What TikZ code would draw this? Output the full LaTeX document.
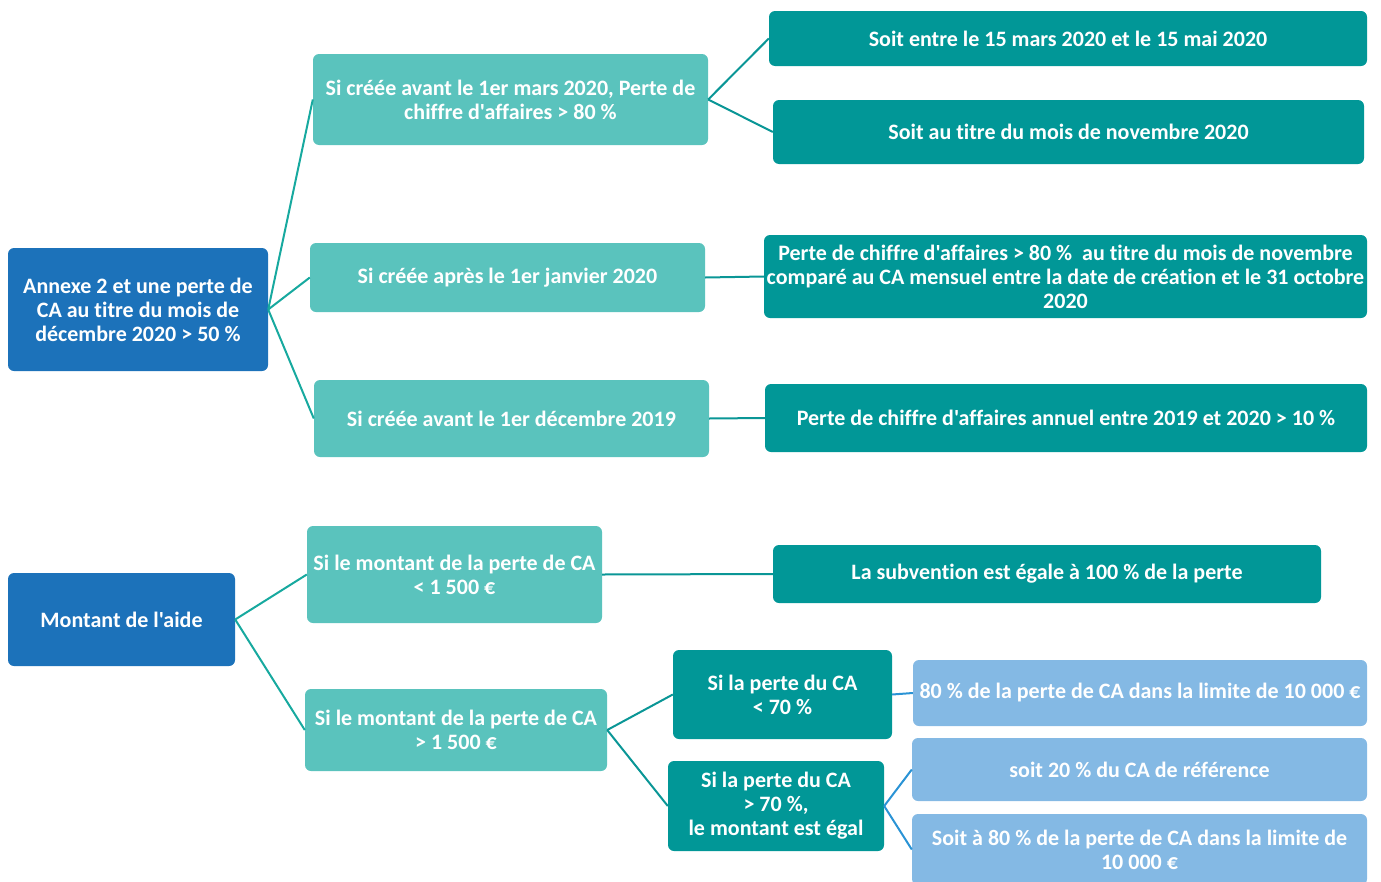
\documentclass[tikz,border=0pt]{standalone}
\usepackage{fontspec}
\setmainfont{Carlito}[Ligatures={TeXOff,CommonOff}]
\definecolor{rootblue}{HTML}{1C72BA}
\definecolor{lteal}{HTML}{5AC3BD}
\definecolor{dteal}{HTML}{019797}
\definecolor{lblue}{HTML}{84B9E4}
\definecolor{lnteal}{HTML}{17A99F}
\definecolor{lndteal}{HTML}{0A9696}
\definecolor{lnblue}{HTML}{2A93D5}
\tikzset{
  base/.style={rounded corners=6pt, inner sep=0pt, align=center, text=white,
    font=\bfseries\fontsize{22}{24}\selectfont},
  rootbox/.style={base, fill=rootblue},
  midbox/.style={base, fill=lteal},
  leafbox/.style={base, fill=dteal},
  bluebox/.style={base, fill=lblue},
  linkA/.style={draw=lnteal, line width=2pt},
  linkB/.style={draw=lndteal, line width=2pt},
  linkC/.style={draw=lnblue, line width=2pt}
}
\newcommand\mybox[7]{\node[#1, minimum width={(#4)-(#2)}, minimum height={(#5)-(#3)}] (#6) at ({((#2)+(#4))/2},{((#3)+(#5))/2}) {#7};}
\begin{document}
\begin{tikzpicture}[x=1pt,y=-1pt]
\useasboundingbox (0,0) rectangle (1381,881);
\clip (0,0) rectangle (1381,881);
% upper tree
\mybox{rootbox}{8}{248}{268}{371}{r1}{Annexe 2 et une perte de\\CA au titre du mois de\\décembre 2020 > 50 \%}
\mybox{midbox}{313}{54}{708}{145}{a1}{Si créée avant le 1er mars 2020, Perte de\\chiffre d'affaires > 80 \%}
\mybox{midbox}{310}{243}{705}{312}{a2}{Si créée après le 1er janvier 2020}
\mybox{midbox}{314}{380}{709}{457}{a3}{Si créée avant le 1er décembre 2019}
\mybox{leafbox}{769}{11}{1367}{66}{b1}{Soit entre le 15 mars 2020 et le 15 mai 2020}
\mybox{leafbox}{773}{100}{1364}{164}{b2}{Soit au titre du mois de novembre 2020}
\mybox{leafbox}{764}{235}{1367}{318}{b3}{Perte de chiffre d'affaires > 80 \%~ au titre du mois de novembre\\comparé au CA mensuel entre la date de création et le 31 octobre\\2020}
\mybox{leafbox}{765}{384}{1367}{452}{b4}{Perte de chiffre d'affaires annuel entre 2019 et 2020 > 10 \%}
% lower tree
\mybox{rootbox}{8}{573}{235}{666}{r2}{Montant de l'aide}
\mybox{midbox}{307}{526}{602}{623}{c1}{Si le montant de la perte de CA\\< 1 500 €}
\mybox{midbox}{305}{689}{607}{771}{c2}{Si le montant de la perte de CA\\> 1 500 €}
\mybox{leafbox}{773}{545}{1321}{603}{d1}{La subvention est égale à 100 \% de la perte}
\mybox{leafbox}{673}{650}{892}{739}{e1}{Si la perte du CA\\< 70 \%}
\mybox{leafbox}{668}{761}{884}{851}{e2}{Si la perte du CA\\> 70 \%,\\le montant est égal}
\mybox{bluebox}{913}{660}{1367}{726}{f1}{80 \% de la perte de CA dans la limite de 10 000 €}
\mybox{bluebox}{912}{738}{1367}{801}{f2}{soit 20 \% du CA de référence}
\mybox{bluebox}{912}{814}{1367}{885}{f3}{Soit à 80 \% de la perte de CA dans la limite de\\10 000 €}
% connectors
\draw[linkA] (r1.east) -- (a1.west);
\draw[linkA] (r1.east) -- (a2.west);
\draw[linkA] (r1.east) -- (a3.west);
\draw[linkB] (a1.east) -- (b1.west);
\draw[linkB] (a1.east) -- (b2.west);
\draw[linkB] (a2.east) -- (b3.west);
\draw[linkB] (a3.east) -- (b4.west);
\draw[linkA] (r2.east) -- (c1.west);
\draw[linkA] (r2.east) -- (c2.west);
\draw[linkB] (c1.east) -- (d1.west);
\draw[linkB] (c2.east) -- (e1.west);
\draw[linkB] (c2.east) -- (e2.west);
\draw[linkC] (e1.east) -- (f1.west);
\draw[linkC] (e2.east) -- (f2.west);
\draw[linkC] (e2.east) -- (f3.west);
\end{tikzpicture}
\end{document}
